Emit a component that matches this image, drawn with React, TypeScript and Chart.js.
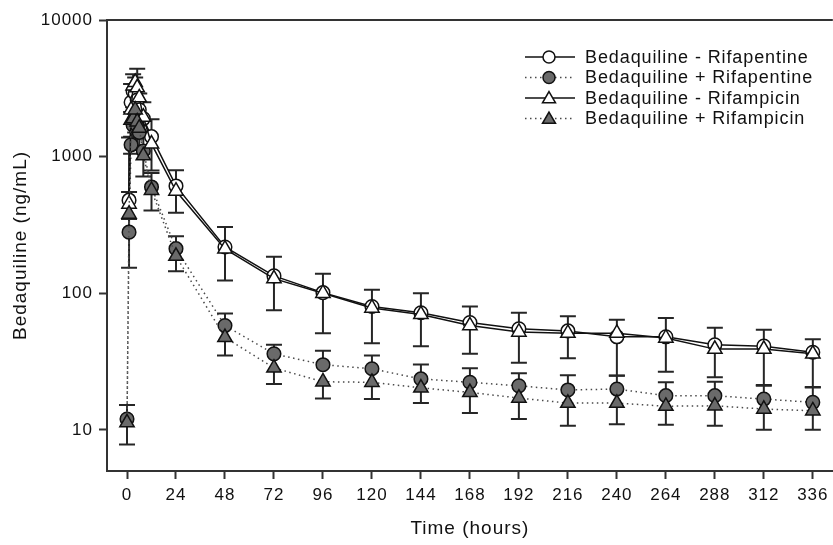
import React, { useEffect, useRef } from 'react';
import { Chart, registerables } from 'chart.js';

Chart.register(...registerables);

// ---------- data ----------
const timeHours = [0, 1, 2, 3, 4, 5, 6, 8, 12, 24, 48, 72, 96, 120, 144, 168, 192, 216, 240, 264, 288, 312, 336];
const xTickHours = [0, 24, 48, 72, 96, 120, 144, 168, 192, 216, 240, 264, 288, 312, 336];
const yTickValues = [10, 100, 1000, 10000];

const seriesNames = [
  'Bedaquiline - Rifapentine',
  'Bedaquiline + Rifapentine',
  'Bedaquiline - Rifampicin',
  'Bedaquiline + Rifampicin',
];

// circle series show the upper (+SD) bar, triangle series show the lower (-SD) bar
const bdqMinusRifapentine = [null, 480, 2500, 3000, 2900, 2600, 2200, 1900, 1400, 610, 218, 134, 101, 80, 72, 61, 55, 53, 48, 48, 42, 41, 37];
const bdqMinusRifapentineSD = [null, 70, 900, 1000, 900, 1800, 700, 600, 480, 185, 87, 51, 38, 26, 28, 19, 17, 15, 16, 18, 14, 13, 9];

const bdqPlusRifapentine = [12, 280, 1220, 1700, 1900, 1700, 1500, 1100, 600, 212, 58, 36, 30, 28, 23.6, 22.3, 21, 19.6, 19.9, 17.8, 17.8, 16.8, 15.9];
const bdqPlusRifapentineSD = [3.2, 1100, 900, 800, 700, 600, 500, 350, 160, 49, 13, 6, 8, 7, 6.5, 6, 5, 5.5, 5, 4.5, 4.7, 4.5, 4.7];

const bdqMinusRifampicin = [null, 450, 2200, 3300, 3500, 3200, 2700, 1950, 1240, 560, 211, 128, 100, 78, 70, 58, 52, 51, 51, 47, 39, 39, 36];
const bdqMinusRifampicinSD = [null, 100, 800, 1000, 950, 1000, 700, 500, 450, 172, 87, 53, 49, 35, 29, 22, 21, 17.6, 26, 20.4, 14.7, 18, 15.6];

const bdqPlusRifampicin = [11.3, 380, 1850, 1900, 2200, 1800, 1620, 1016, 567, 187, 47.5, 28.4, 22.5, 22.3, 20.3, 18.8, 17.1, 15.7, 15.7, 14.9, 15, 14.2, 13.8];
const bdqPlusRifampicinSD = [3.5, 226, 800, 700, 700, 600, 500, 300, 164, 42, 12.5, 6.7, 5.5, 5.5, 4.6, 5.5, 5.1, 5, 4.7, 4, 4.3, 4.2, 3.8];

// ---------- styles ----------
const FONT = "'Liberation Sans', Arial, sans-serif";
const GREY_FILL = '#6a6a6a';
const DOT_LINE = '#4a4a4a';

type SeriesStyle = { fill: string; shape: 'circle' | 'triangle'; dotted: boolean; radius: number; barDir: number };
const styles: SeriesStyle[] = [
  { fill: '#ffffff', shape: 'circle', dotted: false, radius: 6.8, barDir: 1 },
  { fill: GREY_FILL, shape: 'circle', dotted: true, radius: 6.8, barDir: 1 },
  { fill: '#ffffff', shape: 'triangle', dotted: false, radius: 8.3, barDir: -1 },
  { fill: GREY_FILL, shape: 'triangle', dotted: true, radius: 8.3, barDir: -1 },
];
const means = [bdqMinusRifapentine, bdqPlusRifapentine, bdqMinusRifampicin, bdqPlusRifampicin];
const sds = [bdqMinusRifapentineSD, bdqPlusRifapentineSD, bdqMinusRifampicinSD, bdqPlusRifampicinSD];

function drawMarker(ctx: CanvasRenderingContext2D, shape: string, x: number, y: number, r: number, fill: string) {
  ctx.save();
  ctx.setLineDash([]);
  ctx.beginPath();
  if (shape === 'circle') {
    ctx.arc(x, y, r, 0, Math.PI * 2);
  } else {
    for (let i = 0; i < 3; i++) {
      const a = (i * 2 * Math.PI) / 3;
      const px = x + Math.sin(a) * r;
      const py = y - Math.cos(a) * r;
      if (i === 0) ctx.moveTo(px, py);
      else ctx.lineTo(px, py);
    }
    ctx.closePath();
  }
  ctx.fillStyle = fill;
  ctx.fill();
  ctx.lineWidth = 1.5;
  ctx.strokeStyle = '#111';
  ctx.stroke();
  ctx.restore();
}

const textSpacingPlugin = {
  id: 'textSpacing',
  beforeDraw(chart: any) {
    (chart.ctx as any).letterSpacing = '1px';
  },
};

const errorBarPlugin = {
  id: 'errorBars',
  beforeDatasetsDraw(chart: any) {
    const { ctx, chartArea, scales } = chart;
    const xs = scales.x;
    const ys = scales.y;
    ctx.save();
    ctx.beginPath();
    ctx.rect(chartArea.left, chartArea.top, chartArea.right - chartArea.left, chartArea.bottom - chartArea.top);
    ctx.clip();
    ctx.strokeStyle = '#262626';
    ctx.lineWidth = 2;
    const cap = 8;
    for (let si = 0; si < means.length; si++) {
      const m = means[si];
      const s = sds[si];
      const dir = styles[si].barDir;
      for (let i = 0; i < timeHours.length; i++) {
        const v = m[i];
        const d = s[i];
        if (v == null || d == null) continue;
        const x = xs.getPixelForValue(timeHours[i]);
        const y0 = ys.getPixelForValue(v);
        const endV = v + dir * d;
        const y1 = endV > 0 ? ys.getPixelForValue(endV) : chartArea.bottom + 20;
        ctx.beginPath();
        ctx.moveTo(x, y0);
        ctx.lineTo(x, y1);
        if (endV > 0) {
          ctx.moveTo(x - cap, y1);
          ctx.lineTo(x + cap, y1);
        }
        ctx.stroke();
      }
    }
    ctx.restore();
  },
};

const framePlugin = {
  id: 'frameAndLegend',
  afterDraw(chart: any) {
    const { ctx, chartArea } = chart;
    ctx.save();
    // top frame line
    ctx.strokeStyle = '#333';
    ctx.lineWidth = 2;
    ctx.beginPath();
    ctx.moveTo(chartArea.left, chartArea.top);
    ctx.lineTo(chartArea.right, chartArea.top);
    ctx.stroke();

    // legend
    const lx0 = 525;
    const lx1 = 575;
    const mx = 549;
    const tx = 585;
    const rows = [57, 77.5, 98, 118.5];
    (ctx as any).letterSpacing = '0.9px';
    ctx.font = `18px ${FONT}`;
    ctx.textBaseline = 'middle';
    ctx.textAlign = 'left';
    for (let i = 0; i < 4; i++) {
      const st = styles[i];
      const y = rows[i];
      ctx.save();
      ctx.beginPath();
      if (st.dotted) {
        ctx.setLineDash([1.5, 3.5]);
        ctx.strokeStyle = DOT_LINE;
      } else {
        ctx.strokeStyle = '#111';
      }
      ctx.lineWidth = 1.5;
      ctx.moveTo(lx0, y);
      ctx.lineTo(lx1, y);
      ctx.stroke();
      ctx.restore();
      drawMarker(ctx, st.shape, mx, y + (st.shape === 'triangle' ? 1 : 0), st.shape === 'circle' ? 6 : 7.5, st.fill);
      ctx.fillStyle = '#111';
      ctx.fillText(seriesNames[i], tx, y + 1);
    }
    ctx.restore();
  },
};

export default function App() {
  const canvasRef = useRef<HTMLCanvasElement | null>(null);

  useEffect(() => {
    if (!canvasRef.current) return;
    const datasets = means.map((m, si) => {
      const st = styles[si];
      return {
        label: seriesNames[si],
        data: timeHours.map((t, i) => ({ x: t, y: m[i] })),
        borderColor: st.dotted ? DOT_LINE : '#111',
        borderWidth: 1.5,
        borderDash: st.dotted ? [1.5, 3.5] : [],
        pointStyle: st.shape,
        pointRadius: st.radius,
        pointBackgroundColor: st.fill,
        pointBorderColor: '#111',
        pointBorderWidth: 1.5,
        tension: 0,
        fill: false,
        spanGaps: true,
        order: st.shape === 'triangle' ? (st.dotted ? 0 : 1) : st.dotted ? 2 : 3,
      };
    });

    const chart = new Chart(canvasRef.current, {
      type: 'line',
      data: { datasets: datasets as any },
      plugins: [textSpacingPlugin, errorBarPlugin, framePlugin],
      options: {
        responsive: false,
        animation: false,
        devicePixelRatio: 1,
        layout: { padding: { top: 20, right: 0, bottom: 0, left: 0 }, autoPadding: false } as any,
        plugins: { legend: { display: false }, tooltip: { enabled: false } },
        scales: {
          x: {
            type: 'linear',
            min: -9.8,
            max: 345.8,
            afterBuildTicks: (s: any) => {
              s.ticks = xTickHours.map((v) => ({ value: v }));
            },
            afterFit: (s: any) => {
              s.height = 74;
            },
            ticks: {
              color: '#111',
              font: { family: FONT, size: 17 },
              padding: 6,
              maxRotation: 0,
              autoSkip: false,
              callback: (v: any) => String(v),
            },
            grid: { display: true, drawOnChartArea: false, drawTicks: true, tickLength: 8, tickColor: '#333', tickWidth: 2 },
            border: { display: true, color: '#333', width: 2 },
            title: {
              display: true,
              text: 'Time (hours)',
              color: '#111',
              font: { family: FONT, size: 19 },
              padding: { top: 0, bottom: 5 },
            },
          },
          y: {
            type: 'logarithmic',
            min: 5,
            max: 10000,
            afterBuildTicks: (s: any) => {
              s.ticks = yTickValues.map((v) => ({ value: v }));
            },
            afterFit: (s: any) => {
              s.width = 107;
            },
            ticks: {
              color: '#111',
              font: { family: FONT, size: 17 },
              padding: 6,
              autoSkip: false,
              callback: (v: any) => String(v),
            },
            grid: { display: true, drawOnChartArea: false, drawTicks: true, tickLength: 8, tickColor: '#333', tickWidth: 2 },
            border: { display: true, color: '#333', width: 2 },
            title: {
              display: true,
              text: 'Bedaquiline (ng/mL)',
              color: '#111',
              font: { family: FONT, size: 19 },
              padding: { top: 9, bottom: 0 },
            },
          },
        },
      },
    });
    return () => chart.destroy();
  }, []);

  return (
    <div style={{ position: 'fixed', left: 0, top: 0, width: 833, height: 545, background: '#fff' }}>
      <canvas ref={canvasRef} width={833} height={545} style={{ display: 'block' }} />
    </div>
  );
}
